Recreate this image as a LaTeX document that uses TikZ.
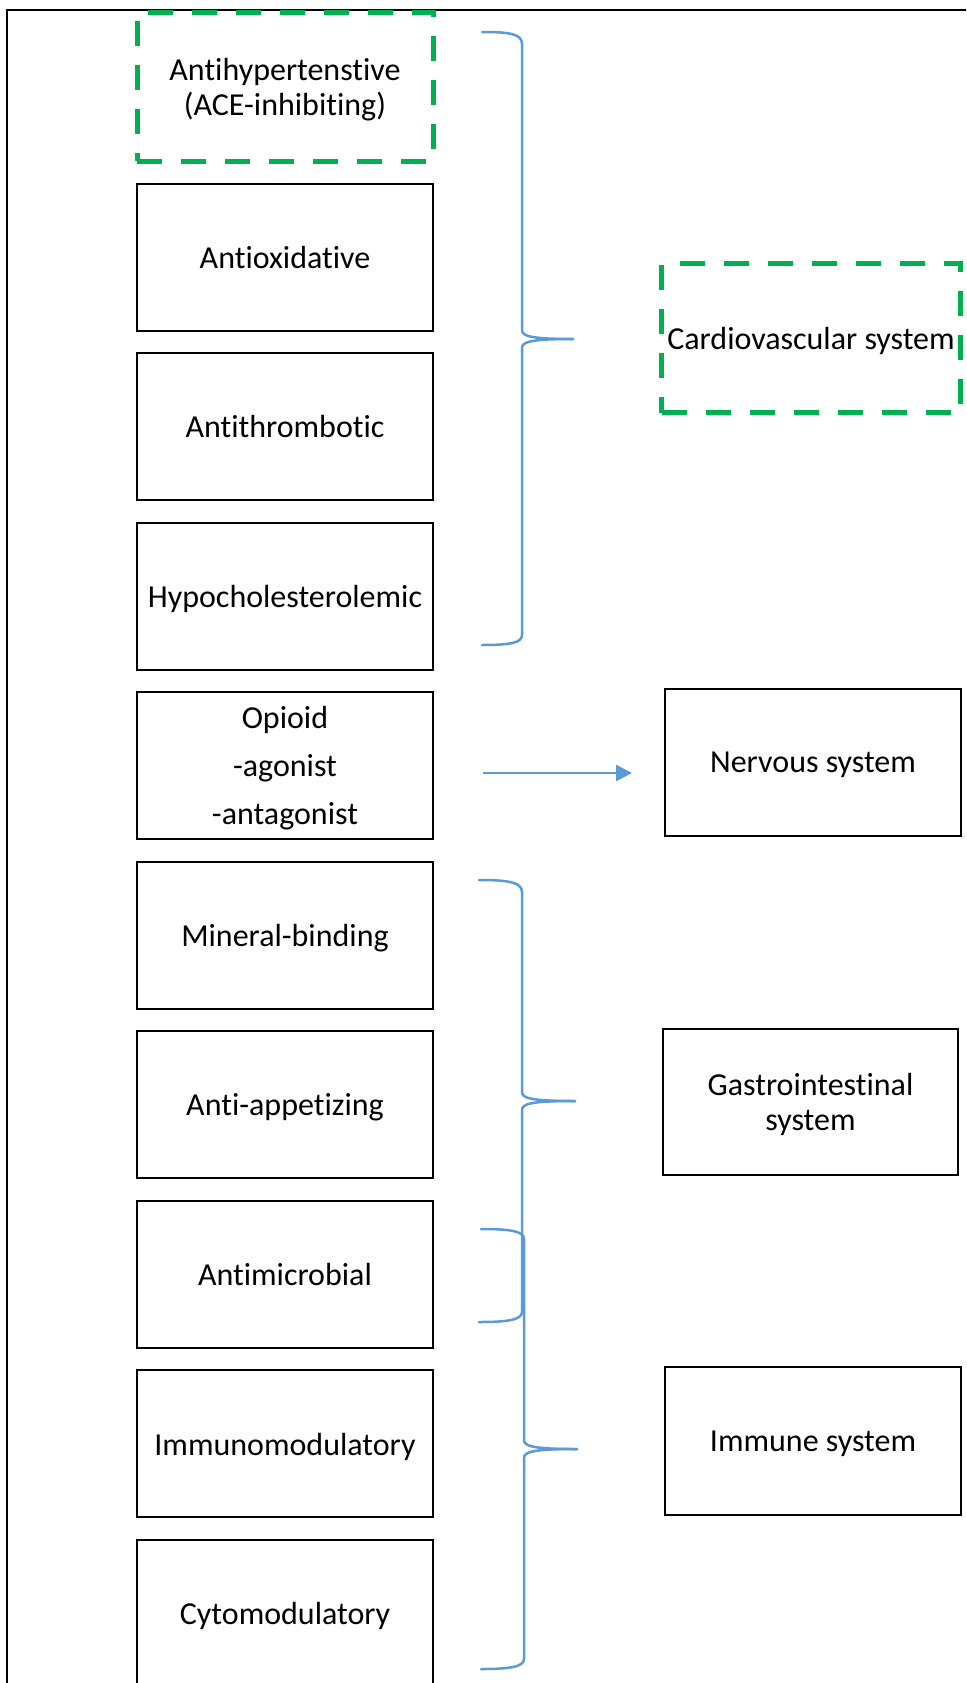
\documentclass[tikz,border=0pt]{standalone}
\usepackage{fontspec}
\setmainfont[Ligatures={NoCommon}]{Carlito}
\usetikzlibrary{arrows.meta}
\definecolor{dgreen}{HTML}{00B050}
\definecolor{bblue}{HTML}{5B9BD5}
\begin{document}
\begin{tikzpicture}[x=1pt,y=-1pt,
  box/.style={draw=black, line width=2pt, minimum width=296pt, minimum height=147pt, inner sep=0pt, align=center, text depth=0pt, font=\fontsize{32}{35}\selectfont},
  gbox/.style={box, draw=dgreen, line width=5pt, dash pattern=on 25pt off 19pt},
  brc/.style={draw=bblue, line width=2.5pt, line join=round, line cap=round},
  arr/.style={draw=bblue, line width=2.5pt, -{Triangle[length=16pt,width=16pt]}}]
\clip (0,0) rectangle (966,1683);
\fill[white] (0,0) rectangle (966,1683);
\draw[line width=2pt] (7,10) rectangle (990,1710);
% left column
\node[gbox, minimum height=148pt] (ahyp) at (285,87) {Antihypertenstive\\(ACE-inhibiting)};
\node[box] (aox) at (285,257) {Antioxidative};
\node[box] (athr) at (285,426.6) {Antithrombotic};
\node[box] (hypo) at (285,596.1) {Hypocholesterolemic};
\node[box, font=\fontsize{32}{48}\selectfont] (opi) at (285,765.7) {Opioid\\-agonist\\-antagonist};
\node[box] (minb) at (285,935.2) {Mineral-binding};
\node[box] (aapp) at (285,1104.8) {Anti-appetizing};
\node[box] (amic) at (285,1274.4) {Antimicrobial};
\node[box] (immu) at (285,1443.9) {Immunomodulatory};
\node[box] (cyto) at (285,1613.5) {Cytomodulatory};
% right column
\node[gbox, minimum width=299pt, minimum height=149pt] (cardio) at (811,338) {Cardiovascular system};
\node[box] (nerv) at (813,762.5) {Nervous system};
\node[box, minimum width=295pt, minimum height=146pt] (gast) at (810.5,1102) {Gastrointestinal\\system};
\node[box, minimum height=148pt] (imm) at (813,1441) {Immune system};
% arrow
\draw[arr, shorten <=49pt, shorten >=32pt] (opi.east |- 0,773) -- (nerv.west |- 0,773);
% brace 1 (cardiovascular)
\draw[brc] (482,32) .. controls (510,32) and (522,34) .. (522,44) -- (522,330) .. controls (522,336) and (530,339) .. (573,339);
\draw[brc] (573,339) .. controls (530,339) and (522,342) .. (522,348) -- (522,635) .. controls (522,643) and (510,645) .. (482,645);
% brace 2 (gastrointestinal)
\draw[brc] (479,880) .. controls (507,880) and (522,882) .. (522,892) -- (522,1092) .. controls (522,1098) and (530,1101) .. (575,1101);
\draw[brc] (575,1101) .. controls (530,1101) and (522,1104) .. (522,1110) -- (522,1312) .. controls (522,1320) and (507,1322) .. (479,1322);
% brace 3 (immune)
\draw[brc] (481,1229) .. controls (509,1229) and (524,1231) .. (524,1239) -- (524,1440) .. controls (524,1446) and (532,1449) .. (577,1449);
\draw[brc] (577,1449) .. controls (532,1449) and (524,1452) .. (524,1458) -- (524,1659) .. controls (524,1667) and (509,1669) .. (481,1669);
\end{tikzpicture}
\end{document}
